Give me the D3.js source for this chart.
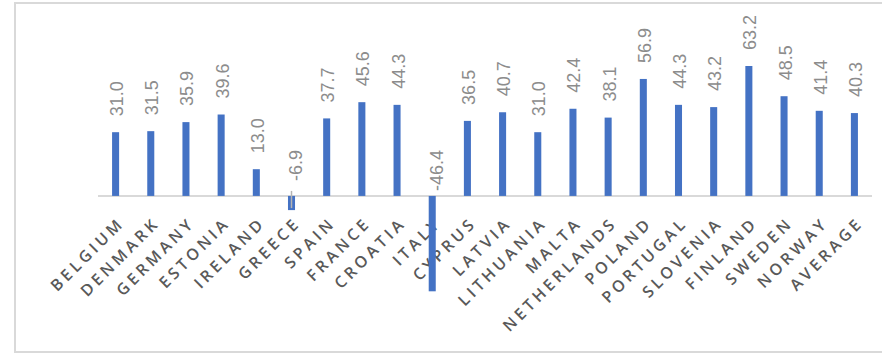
<!DOCTYPE html>
<html><head><meta charset="utf-8">
<script src="https://cdn.jsdelivr.net/npm/d3@7"></script>
<style>
html,body{margin:0;padding:0;background:#fff;}
svg{display:block;}
</style>
</head><body>
<svg id="chart" width="882" height="354"></svg>
<script>
const categories = ["BELGIUM","DENMARK","GERMANY","ESTONIA","IRELAND","GREECE","SPAIN","FRANCE","CROATIA","ITALY","CYPRUS","LATVIA","LITHUANIA","MALTA","NETHERLANDS","POLAND","PORTUGAL","SLOVENIA","FINLAND","SWEDEN","NORWAY","AVERAGE"];
const values = [31.0,31.5,35.9,39.6,13.0,-6.9,37.7,45.6,44.3,-46.4,36.5,40.7,31.0,42.4,38.1,56.9,44.3,43.2,63.2,48.5,41.4,40.3];
const labels = values.map(v => v.toFixed(1));

const svg = d3.select("#chart");
const W = 882, H = 354;

// frame
svg.append("path")
  .attr("d", `M${W+5},3 H15 V352 H${W+5}`)
  .attr("fill","none").attr("stroke","#d9d9d9").attr("stroke-width",2);

const x = d3.scaleBand().domain(categories).range([98, 872]).paddingInner(0.8).paddingOuter(0.4);
const y = d3.scaleLinear().domain([-46.4, 63.2]).range([291.3, 66]);
const y0 = y(0);

// category labels
const lab = svg.append("g");
categories.forEach((c,i) => {
  const cx = x(c) + x.bandwidth()/2;
  lab.append("text")
    .attr("transform", `translate(${cx+10},${y0+28}) rotate(-45)`)
    .attr("text-anchor","end")
    .attr("font-family","Open Sans, Liberation Sans, sans-serif")
    .attr("font-size", 16)
    .attr("font-weight", 600)
    .attr("letter-spacing", 3.6)
    .attr("fill","#595959")
    .text(c);
});

// axis line
svg.append("line").attr("x1",98).attr("x2",872).attr("y1",y0).attr("y2",y0)
  .attr("stroke","#d9d9d9").attr("stroke-width",2);

// bars
svg.append("g").selectAll("rect").data(values).join("rect")
  .attr("x",(d,i)=>x(categories[i]))
  .attr("width",x.bandwidth())
  .attr("y",d=>Math.min(y(d),y0))
  .attr("height",d=>Math.abs(y(d)-y0))
  .attr("fill","#4472c4");

// small gray line on the Greece bar
values.forEach((v,i)=>{
  if (v<0 && Math.abs(y(v)-y0) < 30) {
    const cx = x(categories[i]) + x.bandwidth()/2;
    svg.append("line").attr("x1",cx).attr("x2",cx).attr("y1",y0-5).attr("y2",y(v)-2)
      .attr("stroke","#b4b4b4").attr("stroke-width",1.5);
  }
});

// value labels
svg.append("g").selectAll("text").data(values).join("text")
  .attr("transform",(d,i)=>{
    const cx = x(categories[i]) + x.bandwidth()/2;
    if (d>=0) return `translate(${cx+1},${y(d)-16}) rotate(-90)`;
    return `translate(${cx+4},${y0-46}) rotate(-90)`;
  })
  .attr("text-anchor",d=> d>=0 ? "start" : "end")
  .attr("dy","0.36em")
  .attr("font-family","Liberation Sans, Arial, sans-serif")
  .attr("font-size",18)
  .attr("fill","#8c8c8c")
  .text((d,i)=>labels[i]);
</script>
</body></html>
